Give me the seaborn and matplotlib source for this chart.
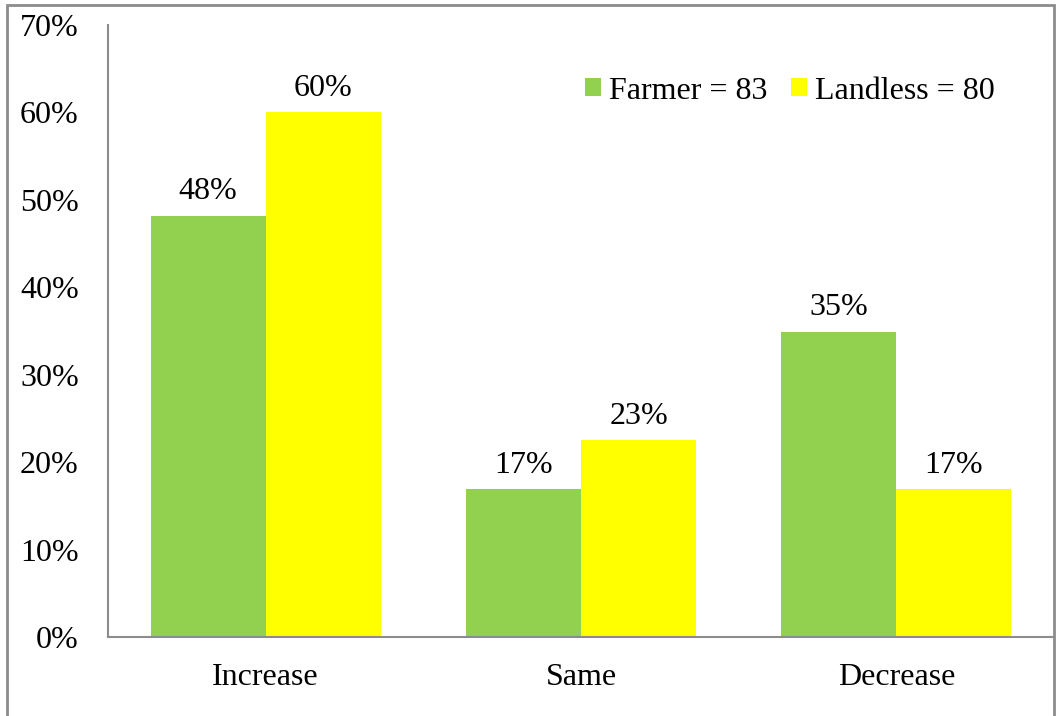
import numpy as np
import pandas as pd
import seaborn as sns
import matplotlib.pyplot as plt
from matplotlib.patches import Rectangle

categories = ["Increase", "Same", "Decrease"]
farmer = [48.2, 16.9, 34.9]
landless = [60.0, 22.5, 16.9]
series_names = ["Farmer = 83", "Landless = 80"]
yticks = [0, 10, 20, 30, 40, 50, 60, 70]

df = pd.DataFrame({
    "category": categories * 2,
    "group": [series_names[0]] * 3 + [series_names[1]] * 3,
    "value": farmer + landless,
})

sns.set_style("white")
plt.rcParams["font.family"] = ["Liberation Serif", "DejaVu Serif"]
plt.rcParams["font.size"] = 23
plt.rcParams["text.color"] = "black"

FS = 23

fig = plt.figure(figsize=(10.57, 7.16), dpi=100)
ax = fig.add_axes([108 / 1057, 1 - 637 / 716, 946 / 1057, 612 / 716])

sns.barplot(data=df, x="category", y="value", hue="group", order=categories,
            hue_order=series_names, palette=["#92D050", "#FFFF00"],
            width=0.73, saturation=1, linewidth=0, ax=ax)

for cont, vals in zip(ax.containers, [farmer, landless]):
    ax.bar_label(cont, labels=[f"{int(v + 0.5)}%" for v in vals],
                 padding=7, fontsize=FS, color="black")

ax.set_ylim(0, 70)
ax.set_yticks(yticks)
ax.set_yticklabels([f"{t}%" for t in yticks])
ax.set_xlabel("")
ax.set_ylabel("")
ax.tick_params(axis="y", length=0, pad=21, labelsize=FS, colors="black")
ax.tick_params(axis="x", length=0, pad=19, labelsize=FS, colors="black")

for side in ["top", "right"]:
    ax.spines[side].set_visible(False)
for side in ["left", "bottom"]:
    ax.spines[side].set_color("#8c8c8c")
    ax.spines[side].set_linewidth(1.5)

ax.legend(loc="center left", bbox_to_anchor=(0.487, 0.892), ncol=2,
          frameon=False, handlelength=0.5, handleheight=0.5,
          handletextpad=0.27, columnspacing=0.72, borderpad=0,
          fontsize=FS)

fig.patches.append(Rectangle((7 / 1057, -0.05), (1054 - 7) / 1057, 1.05 - 5 / 716,
                             transform=fig.transFigure, fill=False,
                             edgecolor="#8c8c8c", linewidth=2, zorder=0))

fig.savefig("out.png", dpi=100)
